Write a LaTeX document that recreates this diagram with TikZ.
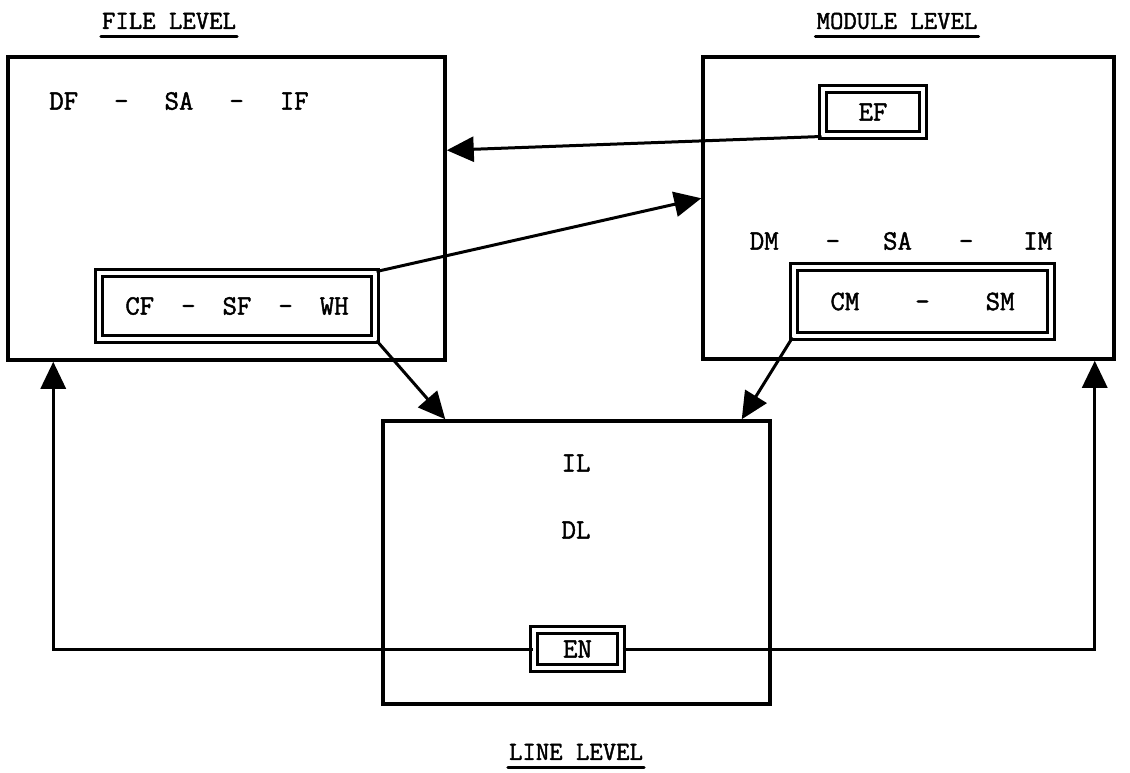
\documentclass[tikz,border=0pt]{standalone}
\usepackage{fontspec}
\newfontfamily\typewriter{Latin Modern Mono}[FakeBold=1.6]
\usetikzlibrary{arrows.meta,calc}
\begin{document}
\begin{tikzpicture}[x=1pt,y=-1pt,
  tt/.style={font=\fontsize{28}{32}\selectfont\typewriter, inner sep=0pt},
  ttitle/.style={font=\fontsize{26}{30}\selectfont\typewriter, inner sep=0pt},
  bigbox/.style={draw, line width=3.5pt, inner sep=0pt},
  dbox/.style={draw, double, double distance=4.5pt, line width=3pt, inner sep=0pt},
  arr/.style={line width=3pt, -{Triangle[length=27pt,width=25pt]}},
  uline/.style={line width=3pt, line cap=round}]
\fill[white] (0,0) rectangle (1130,773);
\useasboundingbox (0,0) rectangle (1130,773);

% main boxes
\node[bigbox, minimum width=437pt, minimum height=303pt] (file) at (226.5,208.5) {};
\node[bigbox, minimum width=411pt, minimum height=302pt] (mod) at (908.5,208) {};
\node[bigbox, minimum width=387pt, minimum height=283pt] (line) at (576.5,562.5) {};

% titles
\node[ttitle] (t1) at (169,21) {FILE LEVEL};
\draw[uline] ($(t1.south west)+(-1,7)$) -- ($(t1.south east)+(1,7)$);
\node[ttitle] (t2) at (897,21) {MODULE LEVEL};
\draw[uline] ($(t2.south west)+(-1,7)$) -- ($(t2.south east)+(1,7)$);
\node[ttitle] (t3) at (576,752) {LINE LEVEL};
\draw[uline] ($(t3.south west)+(-1,7)$) -- ($(t3.south east)+(1,7)$);

% file level contents
\node[tt] (df) at (179,101) {DF\hspace{36pt}-\hspace{36pt}SA\hspace{36pt}-\hspace{36pt}IF};
\node[dbox, tt, minimum width=276pt, minimum height=66pt] (cf) at (237,306)
  {CF\hspace{27pt}-\hspace{27pt}SF\hspace{27pt}-\hspace{27pt}WH};

% module level contents
\node[dbox, tt, minimum width=100pt, minimum height=46pt] (ef) at (873,112) {EF};
\node[tt] (dm) at (901,241) {DM\hspace{47pt}-\hspace{43pt}SA\hspace{47pt}-\hspace{50pt}IM};
\node[dbox, tt, minimum width=257pt, minimum height=69pt] (cm) at (922.5,301.5)
  {CM\hspace{56pt}-\hspace{56pt}SM};

% line level contents
\node[tt] (il) at (576,463) {IL};
\node[tt] (dl) at (576,530) {DL};
\node[dbox, tt, minimum width=87pt, minimum height=38pt] (en) at (577.5,649) {EN};

% arrow end points on box borders
\coordinate (p1) at ($(file.north east)+(0,95)$);
\coordinate (p2) at ($(mod.north west)+(0,143)$);
\coordinate (p3) at ($(line.north west)+(64,0)$);
\coordinate (p4) at ($(line.north east)+(-30,0)$);
\coordinate (p5) at ($(file.south west)+(47,0)$);
\coordinate (p6) at ($(mod.south east)+(-21,0)$);

% connectors
\draw[arr] (ef.south west) -- (p1);
\draw[arr] (cf.north east) -- (p2);
\draw[arr] (cf.south east) -- (p3);
\draw[arr] (cm.south west) -- (p4);
\draw[arr] (en.west) -| (p5);
\draw[arr] (en.east) -| (p6);
\end{tikzpicture}
\end{document}
